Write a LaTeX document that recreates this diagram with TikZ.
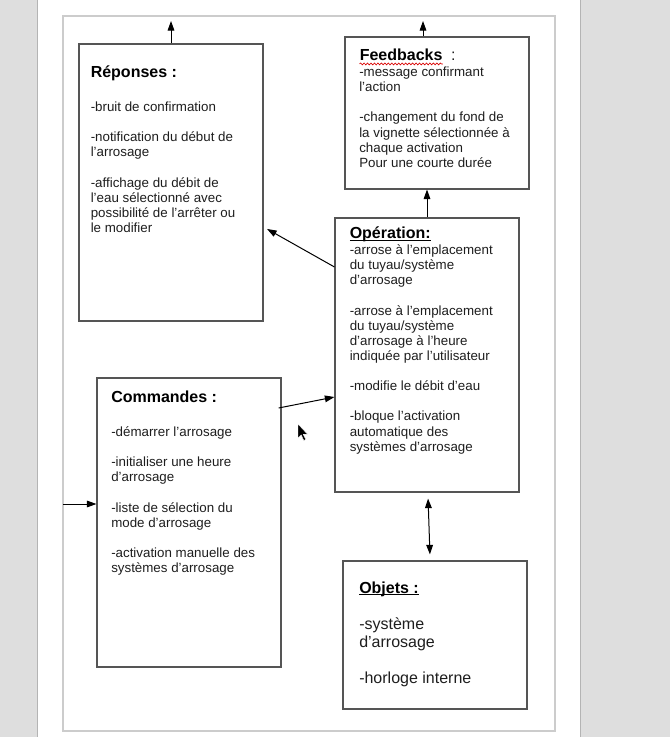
\documentclass[tikz,border=0pt]{standalone}
\usepackage{fontspec}
\setmainfont{Liberation Sans}
\usetikzlibrary{arrows.meta,fit,calc,decorations.pathmorphing}
\definecolor{bgGrey}{HTML}{DEDEDE}
\definecolor{shadowGrey}{HTML}{B4B4B4}
\definecolor{frameGrey}{HTML}{CCCCCC}
\definecolor{boxGrey}{HTML}{555555}
\definecolor{inkText}{HTML}{1E1E1E}
\newcommand{\myul}[1]{\setbox0=\hbox{#1}\rlap{\rule[-1.8pt]{\wd0}{0.8pt}}\box0}
\newcommand{\mylines}[1]{\begin{tabular}[t]{@{}l@{}}#1\end{tabular}}
\tikzset{
  boxnode/.style={draw=boxGrey, line width=0.8pt, inner sep=0pt, fill=white},
  framenode/.style={draw=frameGrey, line width=0.8pt, inner sep=0pt},
  bodytxt/.style={anchor=base west, inner sep=0pt, text=inkText,
    font=\fontsize{10pt}{11.35pt}\selectfont},
  bigtxt/.style={anchor=base west, inner sep=0pt, text=inkText,
    font=\fontsize{12pt}{13.5pt}\selectfont},
  titletxt/.style={anchor=base west, inner sep=0pt, text=black,
    font=\fontsize{12pt}{14pt}\selectfont\bfseries},
  arr/.style={draw=black, line width=0.75pt, -{Triangle[length=7.2pt,width=5pt]}},
  darr/.style={draw=black, line width=0.75pt, {Triangle[length=7.2pt,width=5pt]}-{Triangle[length=7.2pt,width=5pt]}}
}
\begin{document}
\begin{tikzpicture}[x=0.75pt,y=-0.75pt]
\useasboundingbox (0,0) rectangle (670,737);
% screen background and page
\fill[bgGrey] (0,0) rectangle (670,737);
\fill[white] (38,0) rectangle (580,737);
\draw[shadowGrey, line width=1.2pt] (37.5,0) -- (37.5,737);
\draw[shadowGrey, line width=1.2pt] (580.5,0) -- (580.5,737);
\node[framenode, fit={(63,16) (555,731)}] (frame) {};

% boxes
\node[boxnode, fit={(79,44) (263,321)}] (rep) {};
\node[boxnode, fit={(345,37) (529,189)}] (fb) {};
\node[boxnode, fit={(335,218) (519,492)}] (op) {};
\node[boxnode, fit={(97,378) (281,667)}] (cmd) {};
\node[boxnode, fit={(343,561) (527,709)}] (obj) {};

% Réponses
\node[titletxt] (reptitle) at (90.5,77.5) {Réponses :};
\node[bodytxt] (reptxt) at (90.5,111.5) {\mylines{-bruit de confirmation\\[11.35pt]
-notification du début de\\
l'arrosage\\[11.35pt]
-affichage du débit de\\
l'eau sélectionné avec\\
possibilité de l'arrêter ou\\
le modifier}};

% Feedbacks
\node[titletxt] (fbtitle) at (359.5,61) {Feedbacks};
\node[anchor=base west, inner sep=0pt, font=\fontsize{12pt}{14pt}\selectfont, text=inkText] (fbcolon) at ([xshift=6pt]fbtitle.base east) {:};
\draw[red!85!black, line width=0.5pt, decorate, decoration={snake, amplitude=0.7pt, segment length=2.6pt}]
  ([yshift=-2.2pt]fbtitle.base west) -- ([yshift=-2.2pt]fbtitle.base east);
\node[bodytxt] (fbtxt) at (359,76.5) {\mylines{-message confirmant\\
l'action\\[11.35pt]
-changement du fond de\\
la vignette sélectionnée à\\
chaque activation\\
Pour une courte durée}};

% Opération
\node[titletxt] (optitle) at (349.5,238.5) {\myul{Opération:}};
\node[bodytxt] (optxt) at (349.5,254.5) {\mylines{-arrose à l'emplacement\\
du tuyau/système\\
d'arrosage\\[11.35pt]
-arrose à l'emplacement\\
du tuyau/système\\
d'arrosage à l'heure\\
indiquée par l'utilisateur\\[11.35pt]
-modifie le débit d'eau\\[11.35pt]
-bloque l'activation\\
automatique des\\
systèmes d'arrosage}};

% Commandes
\node[titletxt] (cmdtitle) at (111,402) {Commandes :};
\node[bodytxt] (cmdtxt) at (111,436.5) {\mylines{-démarrer l'arrosage\\[11.35pt]
-initialiser une heure\\
d'arrosage\\[11.35pt]
-liste de sélection du\\
mode d'arrosage\\[11.35pt]
-activation manuelle des\\
systèmes d'arrosage}};

% Objets
\node[titletxt] (objtitle) at (359,593) {\myul{Objets :}};
\node[bigtxt] (objtxt) at (359,629.5) {\mylines{-système\\
d'arrosage\\[13.5pt]
-horloge interne}};

% connectors
\coordinate (repout) at (171,21);
\coordinate (fbout) at (423,21);
\coordinate (inL) at (63,504);
\draw[arr] (rep.north) -- (repout);
\draw[arr] (fbout |- fb.north) -- (fbout);
\draw[arr] (op.north) -- (op.north |- fb.south);
\draw[arr, shorten >=3pt] (op.west |- 0,267) -- (rep.east |- 0,227);
\draw[arr] ([xshift=-2.2pt]cmd.east |- 0,408) -- (op.west |- 0,397);
\draw[arr] (inL) -- (cmd.west |- inL);
\draw[darr] ([xshift=0.8pt,yshift=-4.5pt]op.south) -- ([xshift=-3.8pt,yshift=4.5pt]obj.north);

% mouse cursor
\filldraw[fill=black, draw=white, line width=0.3pt]
  (298,424) -- (298,438) -- (301.2,435) -- (303.8,440.5) -- (305.8,439.6) -- (303.2,434.2) -- (307.5,434.2) -- cycle;
\end{tikzpicture}
\end{document}
